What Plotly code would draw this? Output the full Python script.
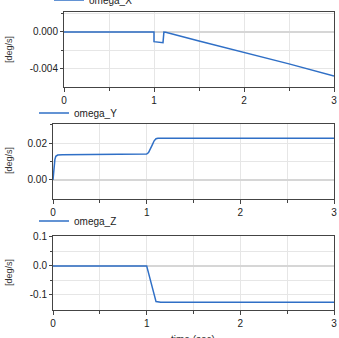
import plotly.graph_objects as go

# ---- data ----
t_x = [0.0, 1.0, 1.0, 1.1, 1.11, 1.13, 1.5, 2.0, 2.5, 3.0]
omega_x = [0.0, 0.0, -0.00105, -0.00116, -0.00002, -0.00003, -0.00097, -0.00220, -0.00345, -0.00477]

t_y = [0.0, 0.005, 0.01, 0.02, 0.03, 0.05, 0.1, 0.5, 0.98, 1.0, 1.02, 1.04, 1.06, 1.08, 1.1, 1.12, 1.15, 2.0, 3.0]
omega_y = [0.0, 0.004, 0.0075, 0.0110, 0.0128, 0.0135, 0.0137, 0.0137, 0.0137, 0.0140, 0.0148, 0.0165, 0.0190, 0.0212, 0.0223, 0.0226, 0.0226, 0.0226, 0.0226]

t_z = [0.0, 1.0, 1.1, 1.15, 2.0, 3.0]
omega_z = [0.0, 0.0, -0.123, -0.125, -0.125, -0.125]

x_ticks = [0, 1, 2, 3]
x_ticktext = ["0", "1", "2", "3"]
y1_ticks = [0.0, -0.004]
y1_ticktext = ["0.000", "-0.004"]
y2_ticks = [0.0, 0.02]
y2_ticktext = ["0.00", "0.02"]
y3_ticks = [0.1, 0.0, -0.1]
y3_ticktext = ["0.1", "0.0", "-0.1"]

W, H = 339, 338
FONT = "Liberation Sans, Arial, sans-serif"
BLUE = "#2f6fc6"
GRID = "#e6e6e6"
AX = "#444444"

def px_x(p):
    return p / W

def px_y(p):
    return 1 - p / H

fig = go.Figure()
fig.add_trace(go.Scatter(x=t_x, y=omega_x, mode="lines", name="omega_X",
                         line=dict(color=BLUE, width=1.5), xaxis="x", yaxis="y", legend="legend"))
fig.add_trace(go.Scatter(x=t_y, y=omega_y, mode="lines", name="omega_Y",
                         line=dict(color=BLUE, width=1.5), xaxis="x2", yaxis="y2", legend="legend2"))
fig.add_trace(go.Scatter(x=t_z, y=omega_z, mode="lines", name="omega_Z",
                         line=dict(color=BLUE, width=1.5), xaxis="x3", yaxis="y3", legend="legend3"))

def xaxis(domain, anchor):
    return dict(domain=domain, anchor=anchor, range=[0, 3], tickmode="array",
                tickvals=x_ticks, ticktext=x_ticktext, ticks="outside", ticklen=4,
                tickcolor=AX, showline=True, mirror=True, linecolor=AX, linewidth=1,
                showgrid=True, gridcolor=GRID, gridwidth=1, zeroline=False,
                tickfont=dict(family=FONT, size=10, color="#222"),
                minor=dict(tickmode="array", tickvals=[0.5, 1.5, 2.5], ticks="outside",
                           ticklen=3, tickcolor=AX, showgrid=True, gridcolor=GRID))

def yaxis(domain, anchor, rng, tv, tt, mv):
    return dict(domain=domain, anchor=anchor, range=rng, tickmode="array",
                tickvals=tv, ticktext=tt, ticks="outside", ticklen=3,
                tickcolor=AX, showline=True, mirror=True, linecolor=AX, linewidth=1,
                showgrid=True, gridcolor=GRID, gridwidth=1,
                zeroline=True, zerolinecolor="#d6d6d6", zerolinewidth=2,
                tickfont=dict(family=FONT, size=10, color="#222"),
                minor=dict(tickmode="array", tickvals=mv, ticks="outside",
                           ticklen=2, tickcolor=AX, showgrid=True, gridcolor=GRID))

legend_common = dict(bgcolor="rgba(0,0,0,0)", borderwidth=0, xanchor="left", yanchor="middle",
                     font=dict(family=FONT, size=10, color="#222"), itemwidth=30)

fig.update_layout(
    width=W, height=H,
    margin=dict(l=0, r=0, t=0, b=0, autoexpand=False),
    paper_bgcolor="white", plot_bgcolor="white",
    xaxis=xaxis([px_x(64), px_x(334)], "y"),
    yaxis=yaxis([px_y(87), px_y(12)], "x", [-0.00595, 0.00216], y1_ticks, y1_ticktext, [0.002, -0.002]),
    xaxis2=xaxis([px_x(53), px_x(334)], "y2"),
    yaxis2=yaxis([px_y(199), px_y(124)], "x2", [-0.0103, 0.0303], y2_ticks, y2_ticktext, [0.01, 0.03]),
    xaxis3=xaxis([px_x(53), px_x(334)], "y3"),
    yaxis3=yaxis([px_y(310), px_y(236)], "x3", [-0.152, 0.103], y3_ticks, y3_ticktext, [0.05, -0.05]),
    legend=dict(x=px_x(49), y=px_y(0), **legend_common),
    legend2=dict(x=px_x(34), y=px_y(113), **legend_common),
    legend3=dict(x=px_x(34), y=px_y(221), **legend_common),
    showlegend=True,
)

for yc in [50, 161, 273]:
    fig.add_annotation(text="[deg/s]", x=px_x(9), y=px_y(yc), xref="paper", yref="paper",
                       textangle=-90, showarrow=False, xanchor="center", yanchor="middle",
                       font=dict(family=FONT, size=9, color="#333"))

fig.add_annotation(text="time (sec)", x=px_x(193), y=px_y(332), xref="paper", yref="paper",
                   showarrow=False, xanchor="center", yanchor="top",
                   font=dict(family=FONT, size=10, color="#333"))

fig.write_html("out.html")
